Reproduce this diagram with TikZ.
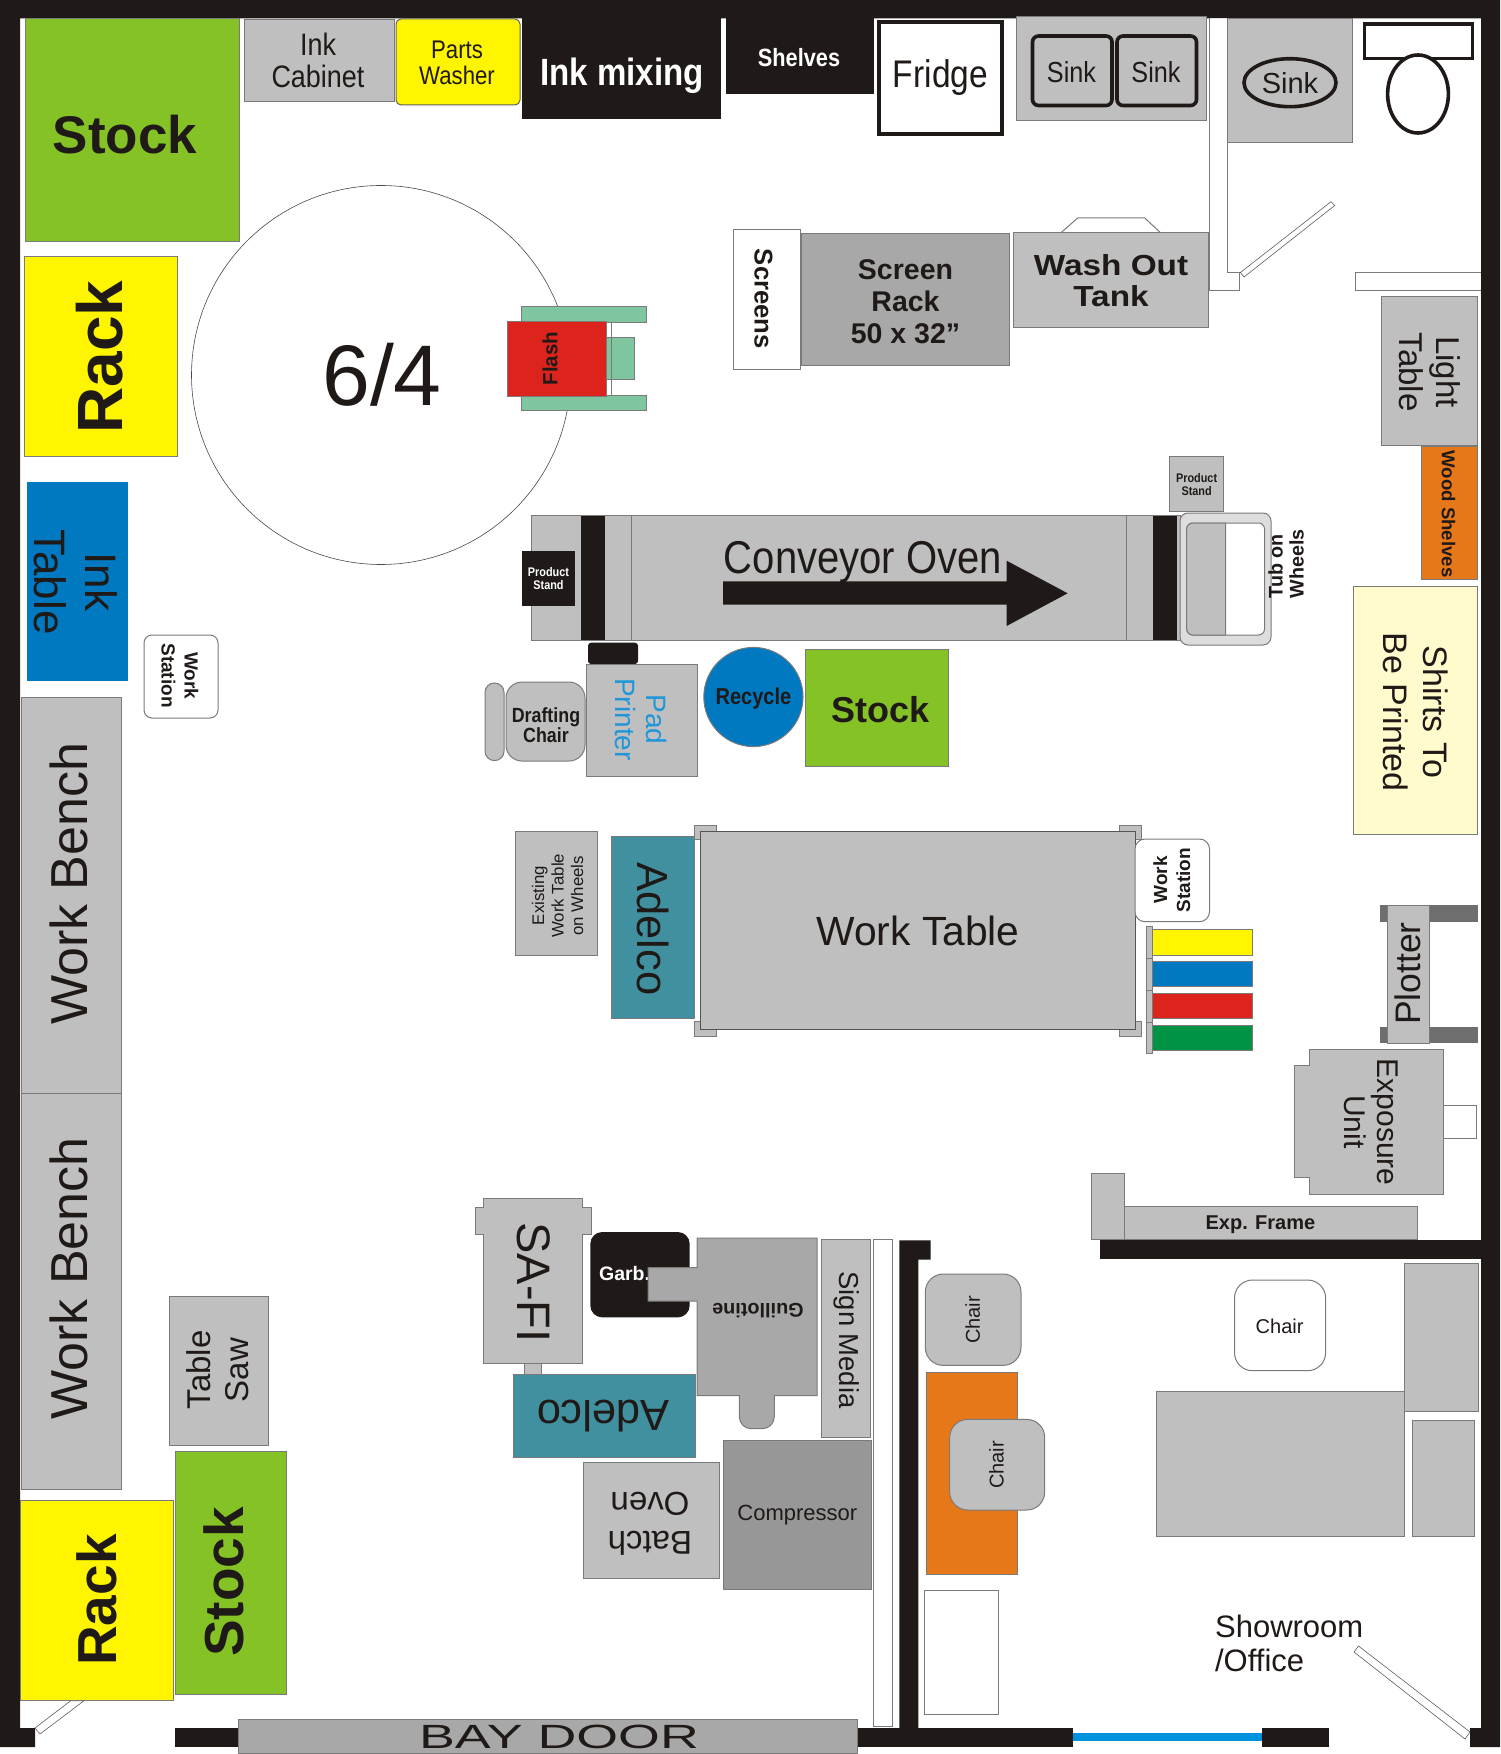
\documentclass[tikz,border=0pt]{standalone}
\usepackage{fontspec}
\setmainfont{Liberation Sans}
\newfontfamily\cnd[FakeStretch=0.87]{Liberation Sans}
\newfontfamily\wdb[FakeStretch=1.15]{Liberation Sans}
\newcommand\fs[2]{\fontsize{\fpeval{#1*0.5}pt}{\fpeval{#2*0.5}pt}\selectfont}
\definecolor{wallc}{HTML}{1F1A17}
\definecolor{grayc}{HTML}{BFBFBF}
\definecolor{darkg}{HTML}{A8A8A8}
\definecolor{compc}{HTML}{979797}
\definecolor{edgec}{HTML}{7A7A7A}
\definecolor{greenc}{HTML}{85C226}
\definecolor{yellowc}{HTML}{FFF500}
\definecolor{bluec}{HTML}{0079C1}
\definecolor{orangec}{HTML}{E7781A}
\definecolor{redc}{HTML}{DC241C}
\definecolor{tealc}{HTML}{40909F}
\definecolor{mintc}{HTML}{7FC6A0}
\definecolor{palec}{HTML}{FFFBCC}
\definecolor{flagg}{HTML}{009245}
\definecolor{padc}{HTML}{1E96D8}
\definecolor{glassc}{HTML}{0093DD}
\definecolor{plotc}{HTML}{6E6E6E}
\definecolor{tubc}{HTML}{DDDDDD}
\tikzset{
  bx/.style={draw=edgec,line width=0.5pt},
  gbox/.style={bx,fill=grayc},
  dbox/.style={bx,fill=darkg},
  wbox/.style={bx,fill=white},
  wall/.style={fill=wallc},
  heavy/.style={draw=wallc,line width=1.8pt},
  lbl/.style={inner sep=0pt,align=center,text=wallc},
  lbll/.style={inner sep=0pt,align=left,text=wallc},
  thin door/.style={draw=wallc!70,line width=0.3pt,fill=white}
}
\begin{document}
\begin{tikzpicture}[x=0.5pt,y=-0.5pt]
\useasboundingbox (0,0) rectangle (1500,1754);
\fill[white] (0,0) rectangle (1500,1754);
% walls
\fill[wall] (0,0) -- (1500,0) -- (1500,1747) -- (1470,1747) -- (1470,1728) -- (1481,1728) -- (1481,18.5) -- (20,18.5) -- (20,1728) -- (35,1728) -- (35,1747) -- (0,1747) -- cycle;
\fill[wall] (175,1728) rectangle (238,1747);
\fill[wall] (857,1728) rectangle (1073,1747);
\fill[wall] (1262.4,1728) rectangle (1328.6,1747);
\fill[glassc] (1073,1732.5) rectangle (1262.4,1741);
\fill[wall] (899.3,1240.4) -- (930.7,1240.4) -- (930.7,1259.5) -- (918.3,1259.5) -- (918.3,1728) -- (899.3,1728) -- cycle;
\fill[wall] (1100.4,1240.3) rectangle (1481,1259.3);
% thin walls
\draw[wbox] (1209,18.5) -- (1209,291) -- (1239.5,291) -- (1239.5,272.5) -- (1227.5,272.5) -- (1227.5,18.5);
\draw[wbox] (1481,272.5) -- (1355,272.5) -- (1355,291) -- (1481,291);
\draw[thin door] (1240.4,272.5) -- (1331,201.7) -- (1334.7,205.5) -- (1244,277) -- cycle;
\draw[thin door] (1354,1652) -- (1358.5,1646) -- (1470,1732) -- (1465,1739) -- cycle;
\draw[thin door] (35,1728) -- (70.7,1700.7) -- (84,1700.7) -- (40,1734) -- cycle;
% turning circle
\draw[draw=wallc!80,line width=0.3pt,fill=white] (381,375) circle [radius=94.75pt];
\node[lbl] (sixfour) at (382,375) {\fs{86}{86}6/4};
% top row
\draw[bx,fill=greenc] (25,18.5) rectangle (239,241.5);
\node[lbl] (stocka) at (125,134.7) {\fs{53}{53}\bfseries Stock};
\draw[gbox] (244.5,20) rectangle (394,102);
\node[lbl,font={\fs{31}{32}\cnd}] (inkcab) at (318,60) {Ink\\Cabinet};
\draw[bx,fill=yellowc,draw=wallc!70,rounded corners=2.5pt] (396,19) rectangle (520,105);
\node[lbl,font={\fs{25.5}{26}\cnd}] (parts) at (457,63) {Parts\\Washer};
\fill[wall] (522,18.5) rectangle (721,119);
\node[lbl,text=white] (inkmix) at (622,76) {\fs{38}{38}\cnd\bfseries Ink mixing};
\fill[wall] (726,18.5) rectangle (874,94);
\node[lbl,text=white] (shelves) at (799,58) {\fs{25}{25}\cnd\bfseries Shelves};
\draw[heavy,fill=white] (879,22) rectangle (1002,134);
\node[lbl] (fridge) at (940.4,78) {\fs{38.5}{38}\cnd Fridge};
\draw[gbox] (1016.5,17) rectangle (1206.5,120.5);
\draw[heavy,fill=grayc,rounded corners=3pt] (1032.5,36) rectangle (1112,105.5);
\draw[heavy,fill=grayc,rounded corners=3pt] (1117,36) rectangle (1196.5,105.5);
\node[lbl] (sinka) at (1071.5,72.6) {\fs{29}{29}\cnd Sink};
\node[lbl] (sinkb) at (1156,72.6) {\fs{29}{29}\cnd Sink};
\draw[gbox] (1227.5,18.5) rectangle (1352,142.4);
\draw[heavy,fill=grayc] (1290,82.7) ellipse [x radius=23pt,y radius=12pt];
\node[lbl] (sinkc) at (1290,83.4) {\fs{29}{29}Sink};
\draw[heavy,fill=white] (1364.5,24) rectangle (1472.5,58.5);
\draw[heavy,fill=white] (1418,94) ellipse [x radius=15.2pt,y radius=19.5pt];
% left column
\draw[bx,fill=yellowc] (24,257) rectangle (177,457);
\node[lbl,rotate=90] (racka) at (99.5,357) {\fs{64}{64}\bfseries Rack};
\draw[bx,fill=bluec,draw=bluec] (27,482) rectangle (127,680);
\node[lbl,rotate=-90,font={\fs{44}{51}}] (inktab) at (76,582) {Ink\\Table};
\draw[wbox,rounded corners=4pt] (144,635) rectangle (218,718);
\node[lbl,rotate=-90,font={\fs{19}{23}\bfseries}] (wsa) at (180,675.6) {Work\\Station};
\draw[gbox] (21.3,697) rectangle (121,1093);
\node[lbl,rotate=90] (wba) at (69.4,883.7) {\fs{52}{52}Work Bench};
\draw[gbox] (21.3,1093) rectangle (121,1489);
\node[lbl,rotate=90] (wbb) at (69.4,1278.6) {\fs{52}{52}Work Bench};
\draw[gbox] (169,1296.5) rectangle (268.5,1445);
\node[lbl,rotate=90,font={\fs{33}{38}}] (saw) at (218,1370) {Table\\Saw};
\draw[bx,fill=yellowc] (20.7,1500) rectangle (173.7,1700);
\node[lbl,rotate=90] (rackb) at (96.7,1600) {\fs{55}{55}\bfseries Rack};
\draw[bx,fill=greenc] (175,1451.3) rectangle (286.7,1694.3);
\node[lbl,rotate=90] (stockb) at (224,1582) {\fs{55}{55}\bfseries Stock};
% flash
\draw[bx,fill=mintc] (521,307) rectangle (646,322.6);
\draw[bx,fill=mintc] (521,396) rectangle (646,411);
\draw[bx,fill=mintc] (606,338) rectangle (634,380);
\draw[bx] (611.5,322.6) -- (611.5,396);
\draw[bx,fill=redc] (507,322) rectangle (606,396.5);
\node[lbl,rotate=90] (flash) at (550,358.6) {\fs{20.5}{21}\bfseries Flash};
% screens / washout
\draw[wbox] (733.5,230) rectangle (800.7,369.3);
\node[lbl,rotate=-90] (screens) at (763.4,299) {\fs{25.7}{26}\bfseries Screens};
\draw[bx,fill=darkg] (801.7,234) rectangle (1009,366);
\node[lbl,font={\fs{28.5}{32}\bfseries}] (srack) at (905.5,301.5) {Screen\\Rack\\50 x 32”};
\draw[bx,fill=white] (1061,232.7) -- (1077.7,218) -- (1144.7,218) -- (1160.5,232.7);
\draw[gbox] (1013.6,232.7) rectangle (1208.4,328);
\node[lbl,font={\fs{29}{31}\wdb\bfseries}] (wash) at (1111,281) {Wash Out\\Tank};
\draw[gbox] (1381.6,296.6) rectangle (1477,445.5);
\node[lbl,rotate=-90,font={\fs{33}{37}}] (light) at (1429.5,372) {Light\\Table};
\draw[bx,fill=orangec] (1421,447) rectangle (1477,579.4);
\node[lbl,rotate=-90] (wood) at (1448.6,514) {\fs{18.6}{18}\bfseries Wood Shelves};
\draw[bx,fill=palec] (1353.6,586.7) rectangle (1477.5,834.3);
\node[lbl,rotate=-90,font={\fs{34}{40}}] (shirts) at (1416,712) {Shirts To\\Be Printed};
% conveyor
\draw[gbox] (531,515.7) rectangle (1180,640);
\fill[wall] (580.6,515.7) rectangle (604.7,640);
\fill[wall] (1153,515.7) rectangle (1177.4,640);
\draw[bx] (631,515.7) -- (631,640);
\draw[bx] (1126.5,515.7) -- (1126.5,640);
\fill[wall] (521.7,551) rectangle (575,605.7);
\node[lbl,text=white,font={\fs{12.5}{13}\cnd\bfseries}] (psa) at (548.5,578.5) {Product\\Stand};
\node[lbl] (conv) at (863,562.5) {\fs{46}{46}\cnd Conveyor Oven};
\fill[wall] (723,581.3) -- (1006.6,581.3) -- (1006.6,560.7) -- (1067.6,593.3) -- (1006.6,626) -- (1006.6,604.7) -- (723,604.7) -- cycle;
\draw[gbox] (1169.6,457) rectangle (1223.7,511.7);
\node[lbl,font={\fs{12.5}{13}\cnd\bfseries}] (psb) at (1196.6,484.7) {Product\\Stand};
\draw[bx,fill=tubc,rounded corners=4pt] (1180,513) rectangle (1271,645);
\draw[bx,fill=white,rounded corners=3pt] (1186.7,523) rectangle (1264.5,635);
\draw[bx,fill=grayc,rounded corners=3pt] (1225.6,523) -- (1186.7,523) -- (1186.7,635) [sharp corners] -- (1225.6,635) -- cycle;
\node[lbll,rotate=90,font={\fs{19.7}{21}\bfseries}] (tub) at (1286,564) {Tub on\\Wheels};
% pad printer row
\fill[wall,rounded corners=1.5pt] (588,642.7) rectangle (638,664);
\draw[gbox] (586.6,664) rectangle (697.8,776);
\node[lbl,rotate=-90,text=padc,font={\fs{28}{31}}] (pad) at (640.5,719.5) {Pad\\Printer};
\draw[gbox,rounded corners=8pt] (506,682) rectangle (585,761);
\draw[gbox,rounded corners=4.7pt] (485,683) rectangle (504,760.6);
\node[lbl,font={\fs{20.5}{20}\cnd\bfseries}] (draft) at (546,725) {Drafting\\Chair};
\draw[bx,fill=bluec] (753.4,697) circle [radius=24.8pt];
\node[lbl] (recycle) at (753.4,699) {\fs{23}{23}\cnd\bfseries Recycle};
\draw[bx,fill=greenc] (805.7,649) rectangle (948,766);
\node[lbl] (stockc) at (880.7,710) {\fs{36}{36}\bfseries Stock};
% work table
\draw[gbox] (515,831.7) rectangle (597.4,955.3);
\node[lbl,rotate=90,font={\fs{16.8}{19.5}}] (exist) at (557.5,895.7) {Existing\\Work Table\\on Wheels};
\draw[bx,fill=tealc] (611.4,836.3) rectangle (694.5,1018);
\node[lbl,rotate=-90] (adela) at (653,929) {\fs{43.5}{43}Adelco};
\draw[gbox] (694.5,825) rectangle (716,839);
\draw[gbox] (1119.8,825) rectangle (1141,839);
\draw[gbox] (694.5,1021) rectangle (716,1036);
\draw[gbox] (1119.8,1021) rectangle (1141,1036);
\draw[bx,fill=grayc,draw=wallc!75] (700,831.7) rectangle (1135,1029.3);
\node[lbl] (wtable) at (918,931) {\fs{40.8}{40}Work Table};
\draw[wbox,rounded corners=5pt] (1135,839) rectangle (1209.5,921.7);
\node[lbl,rotate=90,font={\fs{19}{23}\bfseries}] (wsb) at (1171.7,880) {Work\\Station};
\draw[gbox] (1146,926.7) rectangle (1152.6,958);
\draw[gbox] (1146,958) rectangle (1152.6,990);
\draw[gbox] (1146,990) rectangle (1152.6,1022);
\draw[gbox] (1146,1022) rectangle (1152.6,1053.3);
\draw[bx,fill=yellowc] (1152.6,929.3) rectangle (1252.4,955);
\draw[bx,fill=bluec] (1152.6,961.3) rectangle (1252.4,986.7);
\draw[bx,fill=redc] (1152.6,993) rectangle (1252.4,1018.7);
\draw[bx,fill=flagg] (1152.6,1025.3) rectangle (1252.4,1050.3);
% plotter, exposure
\fill[plotc] (1380,905) rectangle (1478,921.7);
\fill[plotc] (1380,1026.7) rectangle (1478,1043.3);
\draw[gbox] (1387.7,905.7) rectangle (1429,1043.3);
\node[lbl,rotate=90] (plotter) at (1408,973.5) {\fs{35.5}{35}Plotter};
\draw[wbox] (1443.3,1105.7) rectangle (1476.8,1138.3);
\draw[gbox] (1309.3,1049.3) -- (1443.3,1049.3) -- (1443.3,1194.3) -- (1309.3,1194.3) -- (1309.3,1177.7) -- (1294.6,1177.7) -- (1294.6,1065.7) -- (1309.3,1065.7) -- cycle;
\node[lbl,rotate=-90,font={\fs{30}{33}}] (expo) at (1371,1122) {Exposure\\Unit};
\draw[gbox] (1091.7,1173.3) rectangle (1124.5,1239.3);
\draw[gbox] (1124.5,1206) rectangle (1417.9,1239.3);
\node[lbl] (frame) at (1260.4,1225) {\fs{20}{20}\bfseries Exp. Frame};
% lower machines
\draw[gbox] (524.7,1360) rectangle (541.3,1376);
\draw[gbox] (483.3,1198.3) -- (582.7,1198.3) -- (582.7,1207) -- (591,1207) -- (591,1234) -- (582.7,1234) -- (582.7,1363.5) -- (483.3,1363.5) -- (483.3,1234) -- (475,1234) -- (475,1207) -- (483.3,1207) -- cycle;
\node[lbl,rotate=-90] (safi) at (534,1282.6) {\fs{47}{46}SA-FI};
\fill[wall,rounded corners=6pt] (590.3,1232) rectangle (689.7,1317.4);
\node[lbll,text=white,anchor=west] (garb) at (598.7,1273.4) {\fs{19.5}{19}\bfseries Garb.};
\draw[dbox] (697,1238) -- (817,1238) -- (817,1395.7) -- (774.3,1395.7) -- (774.3,1417) [rounded corners=6pt] -- (774.3,1428.7) -- (739.3,1428.7) [sharp corners] -- (739.3,1395.7) -- (697,1395.7) -- (697,1301) -- (648,1301) -- (648,1267.5) -- (697,1267.5) -- cycle;
\node[lbl,rotate=180] (guil) at (758,1311) {\fs{19.8}{20}\bfseries Guillotine};
\draw[gbox] (821.3,1239.3) rectangle (870.7,1437.9);
\node[lbl,rotate=-90] (signm) at (846.5,1340) {\fs{27.4}{27}Sign Media};
\draw[wbox] (873.7,1239.3) rectangle (892,1726.5);
\draw[bx,fill=tealc] (513,1374.5) rectangle (695,1457.3);
\node[lbl,rotate=180] (adelb) at (603.3,1416) {\fs{43.5}{43}Adelco};
\draw[gbox] (583.3,1462.8) rectangle (719.7,1578.5);
\node[lbl,rotate=180,font={\fs{33}{38.8}}] (batch) at (650,1523.5) {Batch\\Oven};
\draw[bx,fill=compc] (723.3,1440.4) rectangle (871.7,1589.5);
\node[lbl] (comp) at (797.3,1515) {\fs{22}{21}Compressor};
\draw[bx,fill=darkg] (238,1719) rectangle (857,1753);
\node[lbl] (bay) at (559,1737) {\fs{33.6}{34}\scalebox{1.6}[1]{BAY DOOR}};
% office
\draw[gbox,rounded corners=9pt] (925.3,1274) rectangle (1021,1365.4);
\node[lbl,rotate=90] (chaira) at (972.7,1320) {\fs{20}{20}Chair};
\draw[bx,fill=orangec] (926,1372.4) rectangle (1017,1574.6);
\draw[gbox,rounded corners=9pt] (949.7,1419.4) rectangle (1044.7,1510);
\node[lbl,rotate=90] (chairb) at (996.4,1465) {\fs{20}{20}Chair};
\draw[wbox] (924.5,1590) rectangle (998.7,1714);
\draw[wbox,rounded corners=9pt] (1234.5,1280) rectangle (1325.6,1370.7);
\node[lbl] (chairc) at (1279.6,1326) {\fs{20}{20}Chair};
\draw[gbox] (1156,1391.5) rectangle (1404,1536.4);
\draw[gbox] (1404.4,1263) rectangle (1478.6,1411.3);
\draw[gbox] (1412.8,1420.5) rectangle (1474.8,1536.4);
\node[lbll,anchor=west,font={\fs{31}{34}}] (show) at (1214.7,1643) {Showroom\\/Office};
\end{tikzpicture}
\end{document}
